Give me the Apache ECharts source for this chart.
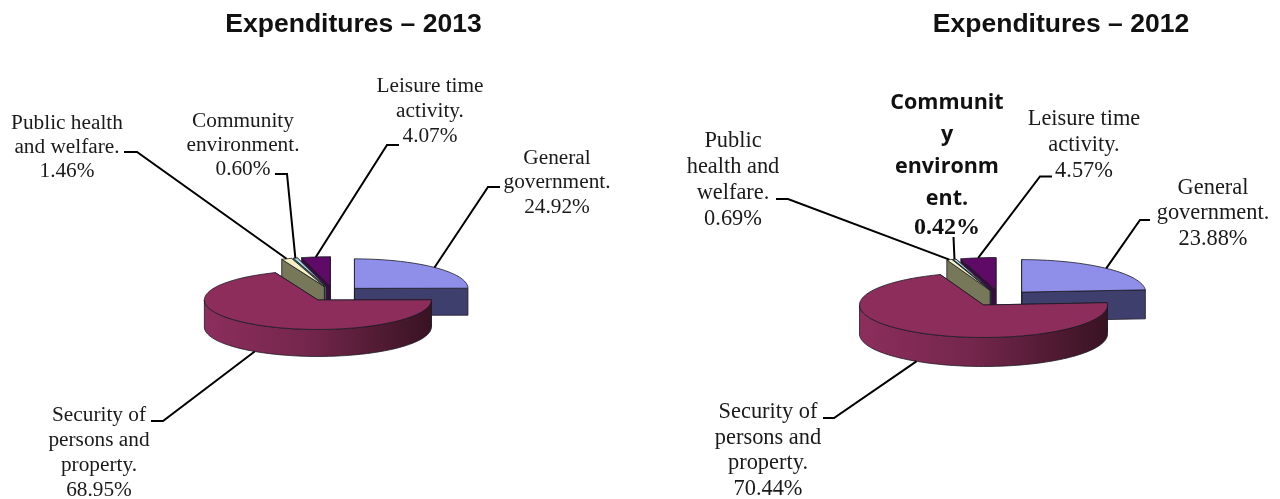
<!DOCTYPE html>
<html>
<head>
<meta charset="utf-8">
<style>html,body{margin:0;padding:0;background:#fff}#chart{width:1280px;height:499px}</style>
<script src="https://cdn.jsdelivr.net/npm/echarts@6/dist/echarts.min.js"></script>
</head>
<body>
<div id="chart"></div>
<script>
// Expenditure shares, percent of total, in clockwise order from twelve o'clock.
const categories = ['General government.', 'Security of persons and property.', 'Public health and welfare.', 'Community environment.', 'Leisure time activity.'];
const shares2013 = [24.92, 68.95, 1.46, 0.60, 4.07];
const shares2012 = [23.88, 70.44, 0.69, 0.42, 4.57];
const titles = ['Expenditures – 2013', 'Expenditures – 2012'];

// How each category name wraps in each pie's label.
const wrapped2013 = ['General\ngovernment.', 'Security of\npersons and\nproperty.', 'Public health\nand welfare.', 'Community\nenvironment.', 'Leisure time\nactivity.'];
const wrapped2012 = ['General\ngovernment.', 'Security of\npersons and\nproperty.', 'Public\nhealth and\nwelfare.', 'Communit\ny\nenvironm\nent.', 'Leisure time\nactivity.'];

// Slice appearance: top surface, cut faces, and paint order (back to front).
const topColors = ['#8f8fea', '#8c2d5c', '#f3f0c4', '#a9d6e2', '#5f0a66'];
const faceColors = ['#3f3f6e', '#5a1f3c', '#77775a', '#4d6f78', '#3a0a40'];
const paintOrder = [1, 5, 4, 3, 2];

const SERIF = '"Liberation Serif", "Times New Roman", serif';

// Placement of each pie and of its labels, in canvas pixels.
const layout2013 = {
  cx: 334, cy: 293.7, rx: 113.5, ry: 29.5, depth: 27, explode: 29, fontSize: 21.3,
  labels: [
    { x: 557, y: 158, lh: 24.5, elbow: [[500, 187], [488, 187]] },
    { x: 99, y: 415, lh: 25, elbow: [[151, 421], [163, 421]], toBase: true },
    { x: 67, y: 123, lh: 24, elbow: [[124, 152], [137, 152]] },
    { x: 243, y: 121, lh: 24, elbow: [[275, 174], [287, 174]] },
    { x: 430, y: 86, lh: 25, elbow: [[399, 145], [387, 145]] }
  ]
};
const layout2012 = {
  cx: 1000.4, cy: 298.1, rx: 124, ry: 32.5, depth: 29, explode: 31.2, fontSize: 22.4,
  labels: [
    { x: 1213, y: 188, lh: 25.5, elbow: [[1150, 220], [1140, 220]] },
    { x: 768, y: 412, lh: 25.7, elbow: [[823, 418], [834, 418]], toBase: true },
    { x: 733, y: 141, lh: 26, elbow: [[776, 199], [788, 199]] },
    { x: 947, y: 103, lh: 32, elbow: [[953.5, 237]], emphasis: true, valueY: 228 },
    { x: 1084, y: 119, lh: 26, elbow: [[1052, 176.5], [1040, 176.5]] }
  ]
};

function ellipsePoint(cx, cy, rx, ry, deg) {
  const a = deg * Math.PI / 180;
  return [cx + rx * Math.cos(a), cy + ry * Math.sin(a)];
}

function arcPoints(cx, cy, rx, ry, from, to) {
  const pts = [];
  const steps = Math.max(2, Math.ceil(Math.abs(to - from) / 2));
  for (let k = 0; k <= steps; k++) {
    pts.push(ellipsePoint(cx, cy, rx, ry, from + (to - from) * k / steps));
  }
  return pts;
}

function pieSeries(shares, wrapped, box) {
  return {
    type: 'custom',
    coordinateSystem: 'none',
    silent: true,
    data: shares.map(function (v, i) { return { name: categories[i], value: v }; }),
    renderItem: function (params, api) {
      const i = params.dataIndex;
      const share = api.value(0);
      const before = shares.slice(0, i).reduce(function (s, v) { return s + v; }, 0);
      // Degrees clockwise from three o'clock; the first slice starts at the top.
      const a0 = -90 + before * 3.6;
      const a1 = a0 + share * 3.6;
      const mid = (a0 + a1) / 2;
      const apex = ellipsePoint(box.cx, box.cy, box.explode, box.explode * box.ry / box.rx, mid);
      const rank = paintOrder[i] * 10;
      const stroke = { stroke: '#1c1a24', lineWidth: 0.8 };
      const children = [];

      function face(angle, z) {
        const rim = ellipsePoint(apex[0], apex[1], box.rx, box.ry, angle);
        children.push({
          type: 'polygon', z2: rank + z,
          shape: { points: [apex, rim, [rim[0], rim[1] + box.depth], [apex[0], apex[1] + box.depth]] },
          style: Object.assign({ fill: faceColors[i] }, stroke)
        });
      }
      face(a1, 0);
      face(a0, 1);

      // Outer wall: only the part of the rim that faces the viewer.
      const w0 = Math.max(a0, 0), w1 = Math.min(a1, 180);
      if (w1 > w0) {
        const upper = arcPoints(apex[0], apex[1], box.rx, box.ry, w0, w1);
        const lower = arcPoints(apex[0], apex[1] + box.depth, box.rx, box.ry, w1, w0);
        children.push({
          type: 'polygon', z2: rank + 2,
          shape: { points: upper.concat(lower) },
          style: Object.assign({
            fill: new echarts.graphic.LinearGradient(0, 0, 1, 0, [
              { offset: 0, color: '#8c2e5d' },
              { offset: 0.45, color: '#74264c' },
              { offset: 1, color: '#381322' }
            ])
          }, stroke)
        });
      }

      children.push({
        type: 'polygon', z2: rank + 3,
        shape: { points: [apex].concat(arcPoints(apex[0], apex[1], box.rx, box.ry, a0, a1)) },
        style: Object.assign({ fill: topColors[i] }, stroke)
      });

      // Leader line from the slice rim to its label.
      const label = box.labels[i];
      const anchor = ellipsePoint(apex[0], apex[1] + (label.toBase ? box.depth : 0), box.rx, box.ry, mid);
      children.push({
        type: 'polyline', z2: 100,
        shape: { points: label.elbow.concat([anchor]) },
        style: { stroke: '#000', lineWidth: 2, fill: null }
      });

      // Label text: wrapped name followed by the percentage.
      const value = share.toFixed(2) + '%';
      if (label.emphasis) {
        children.push({
          type: 'text', z2: 100, x: label.x, y: label.y - label.lh / 2,
          style: {
            text: wrapped[i], align: 'center', verticalAlign: 'top', lineHeight: label.lh,
            font: 'bold 21.5px "Open Sans", sans-serif', fill: '#111'
          }
        });
        children.push({
          type: 'text', z2: 100, x: label.x, y: label.valueY,
          style: { text: value, align: 'center', verticalAlign: 'middle', font: 'bold 24px ' + SERIF, fill: '#111' }
        });
      } else {
        children.push({
          type: 'text', z2: 100, x: label.x, y: label.y - label.lh / 2,
          style: {
            text: wrapped[i] + '\n' + value, align: 'center', verticalAlign: 'top',
            lineHeight: label.lh, font: box.fontSize + 'px ' + SERIF, fill: '#1a1a1a'
          }
        });
      }
      return { type: 'group', children: children };
    }
  };
}

const chart = echarts.init(document.getElementById('chart'), null, { renderer: 'canvas' });
chart.setOption({
  animation: false,
  backgroundColor: '#ffffff',
  title: titles.map(function (text, i) {
    return {
      text: text,
      left: [348.5, 1056][i],
      top: 6,
      textAlign: 'center',
      textStyle: { fontFamily: '"Liberation Sans", Arial, sans-serif', fontWeight: 'bold', fontSize: 26.5, color: '#111' }
    };
  }),
  series: [pieSeries(shares2013, wrapped2013, layout2013), pieSeries(shares2012, wrapped2012, layout2012)]
});
</script>
</body>
</html>
